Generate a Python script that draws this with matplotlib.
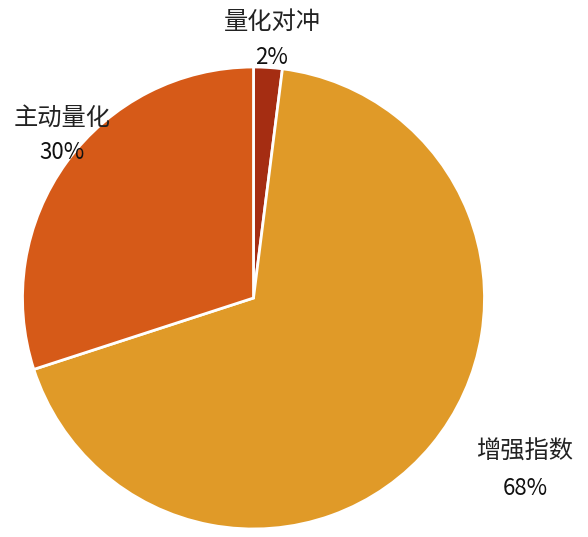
import matplotlib
matplotlib.use("Agg")
import matplotlib.pyplot as plt

plt.rcParams['font.family'] = ['Noto Sans CJK SC', 'DejaVu Sans']

labels = ["量化对冲", "增强指数", "主动量化"]
values = [2, 68, 30]
colors = ["#A52D12", "#E09A28", "#D65A18"]

fig = plt.figure(figsize=(5.88, 5.37), dpi=100)
r_px = 231
cx, cy = 253.5, 298
ax = fig.add_axes([(cx - r_px) / 588, (537 - cy - r_px) / 537, 2 * r_px / 588, 2 * r_px / 537])
ax.pie(values, colors=colors, startangle=90, counterclock=False,
       wedgeprops=dict(edgecolor="white", linewidth=2))
ax.set_xlim(-1, 1)
ax.set_ylim(-1, 1)
ax.set_aspect("equal")
ax.axis("off")

# label positions (data coords)
pos = [(0.08, 1.195, 1.04), (1.175, -0.667, -0.823), (-0.83, 0.78, 0.628)]
for lab, v, (x, y1, y2) in zip(labels, values, pos):
    ax.text(x, y1, lab, ha="center", va="center", fontsize=17.5, color="#222222")
    ax.text(x, y2, "%d%%" % v, ha="center", va="center", fontsize=16, color="#111111")

fig.savefig("out.png", dpi=100)
